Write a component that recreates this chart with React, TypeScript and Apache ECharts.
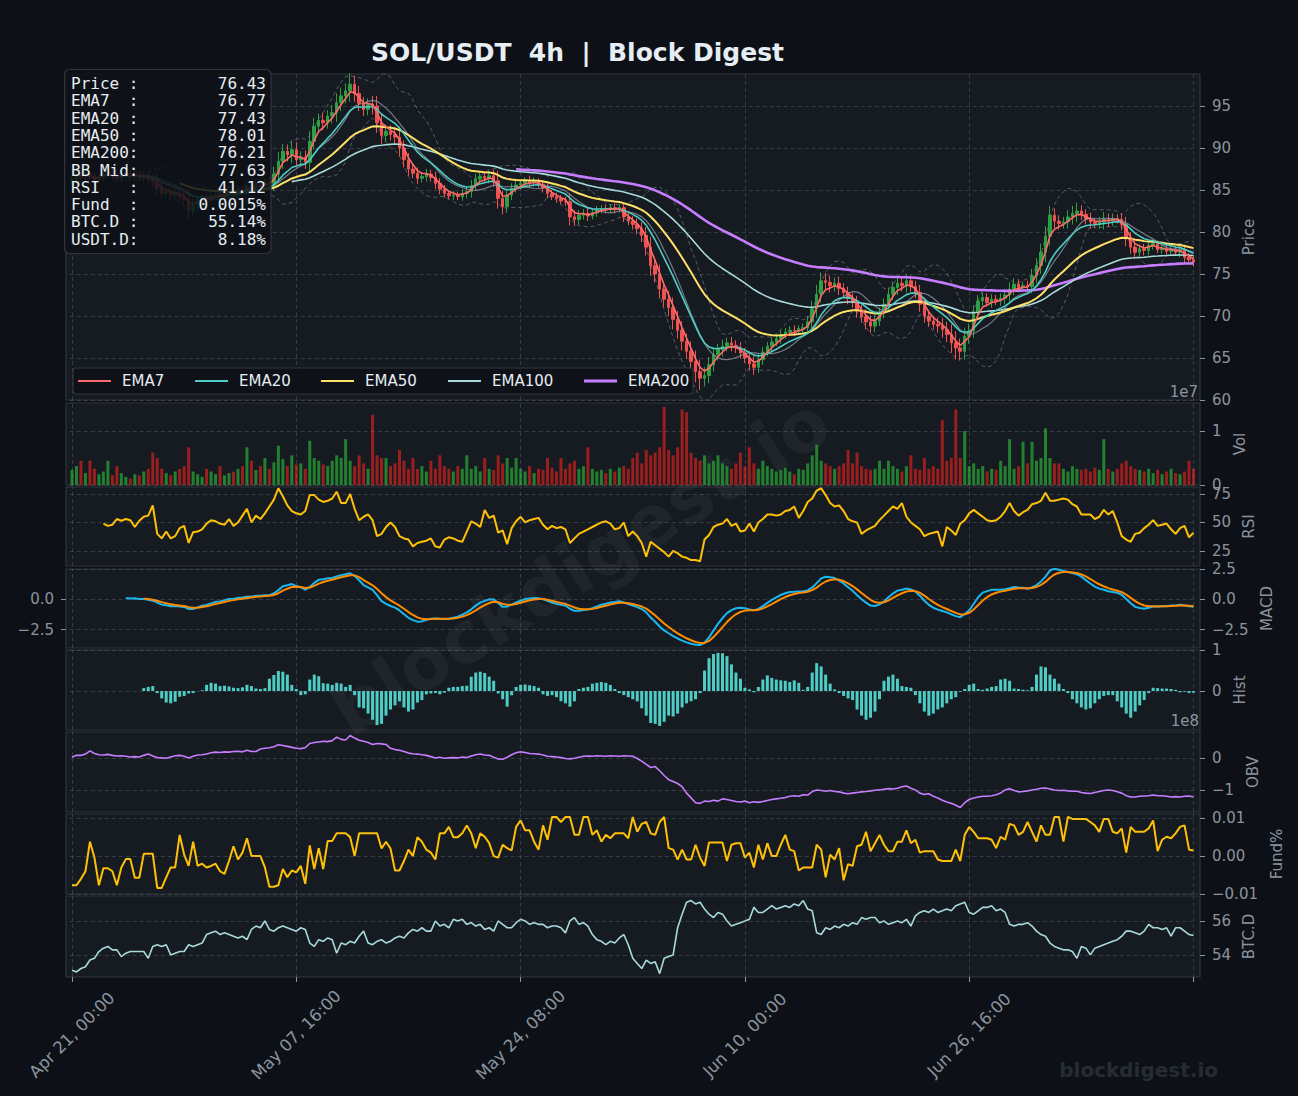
import React, { useEffect, useRef } from "react";
import * as echarts from "echarts";

// ---------------- DATA (8h bars) ----------------
const firstOpen = 86.0;
const closes = [
  86.3, 86.8, 86.5, 86.9, 86.6, 86.2, 86.5, 86.9, 87.1, 86.7,
  86.4, 86.8, 87.0, 86.6, 86.9, 86.4, 86.7, 86.3, 86.0, 85.2,
  84.6, 84.8, 84.4, 84.6, 84.2, 83.9, 82.6, 83.2, 83.9, 84.1,
  83.8, 84.3, 84.5, 84.2, 84.7, 84.9, 84.6, 85.1, 85.0, 85.4,
  85.2, 85.7, 85.5, 85.9, 85.8, 86.9, 88.4, 89.6, 89.2, 89.8,
  88.6, 88.9, 88.3, 90.8, 92.6, 93.3, 93.0, 93.8, 94.2, 95.4,
  96.2, 96.8, 97.6, 96.5, 95.3, 94.6, 95.2, 95.0, 93.0, 91.5,
  92.0, 91.6, 91.3, 90.0, 88.6, 87.5, 87.0, 86.4, 86.6, 86.9,
  86.5, 85.8, 85.1, 84.6, 84.3, 84.4, 84.2, 84.6, 84.8, 85.5,
  86.3, 86.6, 86.4, 86.7, 86.1, 84.0, 83.0, 84.4, 85.2, 85.6,
  85.8, 86.1, 85.9, 86.0, 85.7, 85.2, 84.6, 84.2, 84.0, 83.7,
  83.6, 81.8, 81.5, 82.0, 82.2, 81.9, 82.3, 82.6, 82.8, 82.7,
  82.9, 82.7, 82.9, 81.8, 81.3, 80.9, 80.4, 79.6, 78.2, 76.0,
  75.0, 73.2, 72.0, 71.0, 69.6, 68.3, 67.0, 65.8, 64.6, 63.4,
  62.6, 62.9, 64.2, 65.4, 66.0, 66.4, 66.8, 66.5, 66.2, 65.6,
  65.0, 64.3, 63.9, 64.8, 65.7, 66.4, 66.9, 67.3, 67.8, 68.1,
  68.3, 68.2, 68.5, 68.6, 69.3, 70.9, 72.6, 74.2, 74.0, 73.6,
  73.9, 73.3, 72.8, 72.1, 71.6, 70.6, 69.9, 69.3, 68.8, 69.4,
  70.4, 71.4, 72.6, 73.4, 73.9, 73.6, 74.2, 73.5, 72.8, 71.4,
  70.0, 69.4, 69.0, 68.8, 68.4, 67.8, 66.8, 66.2, 65.8, 67.6,
  68.2, 70.5, 71.8, 72.2, 71.6, 72.0, 71.8, 72.1, 72.5, 73.2,
  73.8, 73.4, 73.6, 73.5, 74.8, 76.0, 77.6, 79.5, 82.0, 81.3,
  81.0, 81.2, 81.8, 82.2, 82.5, 82.1, 81.5, 81.2, 81.0, 81.2,
  81.5, 81.3, 81.6, 81.5, 80.9, 79.2, 78.2, 77.6, 78.0, 77.8,
  78.4, 78.6, 77.9, 78.0, 77.7, 77.9, 77.6, 77.8, 77.0, 76.7,
  76.43,
];
const wicks = [
  0.4, 0.5, 0.3, 0.6, 0.4, 0.5, 0.3, 0.4, 0.5, 0.4,
  0.3, 0.5, 0.4, 0.4, 0.6, 0.3, 0.4, 0.5, 0.6, 0.9,
  0.6, 0.5, 0.4, 0.6, 0.5, 0.7, 1.2, 0.8, 0.5, 0.4,
  0.5, 0.4, 0.3, 0.5, 0.4, 0.6, 0.4, 0.5, 0.3, 0.6,
  0.5, 0.4, 0.6, 0.4, 0.5, 0.9, 1.1, 0.9, 0.8, 1.0,
  0.9, 0.7, 0.8, 1.2, 1.0, 0.8, 0.9, 0.7, 0.9, 1.1,
  1.0, 0.9, 1.3, 1.0, 0.9, 0.8, 0.7, 1.0, 1.2, 1.0,
  0.8, 0.7, 0.9, 1.0, 0.9, 0.8, 0.6, 0.7, 0.5, 0.6,
  0.5, 0.7, 0.6, 0.5, 0.4, 0.5, 0.4, 0.5, 0.6, 0.7,
  0.6, 0.5, 0.5, 0.6, 0.7, 1.2, 0.9, 0.7, 0.6, 0.5,
  0.5, 0.4, 0.6, 0.5, 0.4, 0.5, 0.6, 0.4, 0.5, 0.4,
  0.5, 1.0, 0.8, 0.6, 0.5, 0.6, 0.4, 0.5, 0.4, 0.5,
  0.4, 0.5, 0.4, 0.6, 0.5, 0.6, 0.7, 0.8, 1.0, 1.2,
  1.0, 1.1, 0.9, 1.0, 1.2, 1.0, 1.1, 0.9, 1.2, 1.3,
  1.4, 1.0, 0.9, 0.8, 0.7, 0.8, 0.6, 0.7, 0.6, 0.7,
  0.6, 0.8, 0.9, 0.7, 0.6, 0.5, 0.6, 0.5, 0.6, 0.5,
  0.5, 0.6, 0.4, 0.5, 0.7, 0.9, 1.1, 1.0, 0.9, 0.8,
  0.7, 0.8, 0.6, 0.7, 0.6, 0.8, 0.7, 0.9, 0.8, 0.7,
  0.6, 0.7, 0.8, 0.7, 0.9, 0.7, 0.8, 0.6, 0.7, 0.9,
  0.8, 0.7, 0.6, 0.8, 1.0, 0.9, 1.2, 1.4, 1.1, 1.0,
  0.9, 0.8, 0.7, 0.6, 0.5, 0.6, 0.5, 0.6, 0.7, 0.8,
  0.7, 0.6, 0.5, 0.6, 0.8, 0.9, 1.0, 1.2, 1.1, 0.8,
  0.7, 0.6, 0.8, 0.9, 1.0, 0.7, 0.6, 0.8, 0.5, 0.6,
  0.9, 0.7, 0.6, 0.5, 0.7, 0.9, 0.8, 0.7, 0.5, 0.6,
  0.6, 0.5, 0.4, 0.5, 0.4, 0.5, 0.4, 0.6, 0.7, 0.5,
  0.5,
];
// volume, units of 1e7
const volumes = [
  0.28, 0.35, 0.45, 0.22, 0.45, 0.3, 0.2, 0.25, 0.45, 0.18,
  0.35, 0.22, 0.15, 0.12, 0.2, 0.18, 0.25, 0.3, 0.6, 0.5,
  0.3, 0.22, 0.18, 0.25, 0.3, 0.35, 0.7, 0.25, 0.2, 0.15,
  0.3, 0.25, 0.2, 0.35, 0.18, 0.22, 0.25, 0.3, 0.35, 0.7,
  0.45, 0.28, 0.35, 0.5, 0.3, 0.42, 0.73, 0.48, 0.35, 0.55,
  0.38, 0.4, 0.3, 0.82, 0.5, 0.45, 0.38, 0.35, 0.45, 0.55,
  0.5, 0.85, 0.45, 0.35, 0.55, 0.4, 0.3, 1.3, 0.55, 0.5,
  0.5, 0.35, 0.4, 0.65, 0.45, 0.3, 0.5, 0.3, 0.35, 0.25,
  0.45, 0.3, 0.55, 0.35, 0.3, 0.25, 0.35, 0.3, 0.55, 0.3,
  0.35, 0.25, 0.5, 0.3, 0.28, 0.55, 0.4, 0.5, 0.32, 0.5,
  0.3, 0.25, 0.35, 0.22, 0.3, 0.28, 0.5, 0.32, 0.25, 0.5,
  0.3, 0.4, 0.45, 0.3, 0.35, 0.7, 0.3, 0.25, 0.28, 0.22,
  0.3, 0.25, 0.32, 0.35, 0.3, 0.5, 0.6, 0.4, 0.65, 0.55,
  0.6, 0.7, 1.45, 0.65, 0.55, 0.7, 1.4, 1.35, 0.6, 0.5,
  0.45, 0.55, 0.4, 0.45, 0.55, 0.4, 0.35, 0.3, 0.4, 0.6,
  0.35, 0.7, 0.4, 0.3, 0.45, 0.35, 0.3, 0.25, 0.28, 0.32,
  0.25, 0.2, 0.3, 0.28, 0.4, 0.55, 0.75, 0.45, 0.4, 0.35,
  0.3, 0.35, 0.4, 0.65, 0.4, 0.6, 0.35, 0.3, 0.28, 0.3,
  0.45, 0.3, 0.45, 0.35, 0.3, 0.25, 0.35, 0.55, 0.3, 0.28,
  0.5, 0.3, 0.35, 0.3, 1.2, 0.45, 0.5, 1.4, 0.5, 1.0,
  0.35, 0.4, 0.3, 0.35, 0.25, 0.3, 0.28, 0.45, 0.35, 0.85,
  0.3, 0.35, 0.8, 0.4, 0.8, 0.45, 0.5, 1.05, 0.5, 0.4,
  0.4, 0.3, 0.25, 0.35, 0.3, 0.28, 0.3, 0.25, 0.32, 0.28,
  0.85, 0.3, 0.25, 0.3, 0.4, 0.45, 0.35, 0.3, 0.28, 0.25,
  0.3, 0.22, 0.28, 0.2, 0.25, 0.3, 0.22, 0.2, 0.25, 0.45,
  0.3,
];
const rsiValues = [
  null, null, null, null, null, null, null, 49, 47, 48,
  53, 51.5, 53, 52, 46, 51.5, 55, 56, 65, 40,
  36, 42, 36, 38, 45, 47, 32, 41.5, 42, 44,
  49, 52, 51, 49, 48, 53, 47, 50, 56, 62,
  50, 56, 53, 58, 64, 70, 80, 73, 65, 60,
  58, 57, 60, 74, 74, 70, 68, 69, 71, 77,
  67, 67, 75, 62, 52, 55, 57, 52, 38, 40,
  46, 50, 46, 38, 36, 35, 29, 32, 33, 34,
  36, 29, 28, 35, 37, 36, 34, 33, 42, 51,
  49, 46, 61, 54, 56, 41, 43, 31, 45, 51,
  55, 50, 52, 53, 54, 48, 44, 47, 45, 46,
  44, 32, 36, 40, 42, 44, 46, 48, 50, 51,
  49, 44, 45, 50, 38, 42, 38, 32, 20, 33,
  30, 27, 24, 20, 25, 23, 20, 19, 17, 17,
  16, 35, 39, 46, 48, 49, 53, 47, 49, 42,
  43, 49, 42, 50, 53, 57, 57, 56, 57, 60,
  61, 64, 54, 60, 68, 71, 78, 80, 74, 67,
  64, 65, 60, 53, 51, 50, 40, 43, 45, 47,
  52, 56, 60, 64, 62, 67, 55, 50, 47, 44,
  38, 40, 41, 42, 29, 46, 43, 39, 49, 52,
  58, 61, 58, 55, 52, 51, 52, 55, 60, 67,
  60, 56, 59, 61, 66, 67, 69, 76, 69, 69,
  70, 71, 70, 66, 64, 57, 57, 57, 53, 55,
  61, 57, 60, 50, 38, 35, 33, 40, 41, 45,
  48, 52, 47, 48, 49, 44, 40, 45, 47, 37,
  41.12,
];
// MACD histogram
const histValues = [
  null, null, null, null, null, null, null, null, null, null,
  null, null, null, null, null, null, 0.07, 0.1, 0.12, -0.05,
  -0.18, -0.28, -0.3, -0.26, -0.14, -0.12, -0.06, -0.05, 0.0, 0.02,
  0.15, 0.2, 0.18, 0.12, 0.13, 0.11, 0.08, 0.07, 0.09, 0.15,
  0.12, 0.06, 0.05, 0.07, 0.3, 0.39, 0.49, 0.47, 0.4, 0.15,
  0.05, -0.1, -0.08, 0.28, 0.4, 0.36, 0.19, 0.18, 0.15, 0.2,
  0.18, 0.1, 0.15, -0.1, -0.4, -0.42, -0.55, -0.7, -0.83, -0.8,
  -0.6, -0.45, -0.35, -0.25, -0.4, -0.5, -0.45, -0.28, -0.22, -0.08,
  -0.06, -0.05, -0.08, -0.04, 0.08, 0.1, 0.1, 0.12, 0.13, 0.35,
  0.45, 0.47, 0.44, 0.35, 0.25, -0.06, -0.2, -0.38, -0.1, 0.1,
  0.15, 0.16, 0.14, 0.12, 0.08, -0.08, -0.12, -0.1, -0.15, -0.25,
  -0.3, -0.38, -0.25, 0.05, 0.08, 0.1, 0.18, 0.2, 0.22, 0.2,
  0.15, 0.05, -0.05, -0.1, -0.15, -0.2, -0.25, -0.42, -0.6, -0.78,
  -0.8, -0.85, -0.75, -0.6, -0.62, -0.55, -0.4, -0.3, -0.25, -0.2,
  -0.05, 0.5, 0.8, 0.9, 0.93, 0.92, 0.85, 0.65, 0.45, 0.3,
  0.08, 0.04, -0.03, 0.1, 0.28, 0.38, 0.32, 0.28, 0.26, 0.25,
  0.22, 0.26, 0.2, 0.03, 0.1, 0.45, 0.68, 0.6, 0.4, 0.18,
  0.04, -0.05, -0.12, -0.18, -0.22, -0.45, -0.6, -0.7, -0.65, -0.5,
  -0.2, 0.25, 0.35, 0.4, 0.3, 0.12, 0.1, 0.08, -0.1, -0.3,
  -0.5, -0.6, -0.55, -0.45, -0.4, -0.3, -0.2, -0.15, -0.02, 0.05,
  0.15, 0.18, 0.05, 0.03, 0.06, 0.1, 0.12, 0.28, 0.3, 0.25,
  0.06, 0.05, 0.03, 0.02, 0.1, 0.4, 0.6, 0.58, 0.4, 0.3,
  0.18, 0.05, -0.05, -0.2, -0.3, -0.4, -0.45, -0.42, -0.3, -0.2,
  -0.12, -0.1, -0.1, -0.25, -0.4, -0.55, -0.65, -0.5, -0.35, -0.22,
  -0.05, 0.08, 0.07, 0.06, 0.06, 0.05, 0.03, -0.03, -0.02, -0.05,
  -0.04,
];
// OBV, units of 1e8
const obvValues = [
  0.02, 0.08, 0.08, 0.12, 0.22, 0.14, 0.1, 0.09, 0.11, 0.08,
  0.06, 0.07, 0.05, 0.03, 0.04, 0.03, 0.08, 0.12, 0.06, 0.01,
  0.0, -0.01, 0.03, 0.07, 0.08, 0.05, 0.0, 0.05, 0.09, 0.1,
  0.12, 0.16, 0.18, 0.17, 0.19, 0.18, 0.2, 0.21, 0.19, 0.24,
  0.2, 0.2, 0.28, 0.3, 0.32, 0.35, 0.41, 0.39, 0.36, 0.33,
  0.3, 0.29, 0.32, 0.45, 0.48, 0.5, 0.52, 0.51, 0.54, 0.65,
  0.58, 0.56, 0.7, 0.62, 0.55, 0.52, 0.48, 0.42, 0.45, 0.44,
  0.42, 0.3, 0.26, 0.24, 0.2, 0.15, 0.13, 0.12, 0.1, 0.08,
  0.04, 0.0, 0.02, -0.01, 0.0, 0.01, 0.0, 0.03, 0.01, 0.06,
  0.1, 0.12, 0.09, 0.08, 0.02, -0.03, -0.04, 0.02, 0.1, 0.16,
  0.19, 0.17, 0.14, 0.13, 0.12, 0.09, 0.05, 0.04, 0.03, 0.01,
  -0.02, -0.03, -0.01, 0.02, 0.05, 0.06, 0.05, 0.07, 0.06, 0.05,
  0.07, 0.06, 0.05, 0.07, 0.06, 0.05, -0.02, -0.1, -0.2, -0.3,
  -0.27, -0.4, -0.55, -0.68, -0.74, -0.8, -0.9, -1.1, -1.25, -1.4,
  -1.42, -1.35, -1.36, -1.32, -1.35, -1.28, -1.3, -1.33, -1.36, -1.38,
  -1.35, -1.4, -1.37, -1.39, -1.36, -1.33, -1.3, -1.28, -1.26, -1.24,
  -1.2, -1.18, -1.2, -1.15, -1.16, -1.05, -1.0, -1.02, -1.04, -1.02,
  -1.05, -1.06, -1.1, -1.12, -1.1, -1.08, -1.06, -1.05, -1.03, -1.01,
  -1.0, -0.98, -0.96, -0.97, -0.95, -0.9, -0.88, -0.95, -1.0, -1.1,
  -1.14, -1.12, -1.2, -1.25, -1.32, -1.38, -1.42, -1.48, -1.55, -1.4,
  -1.3, -1.25, -1.22, -1.2, -1.2, -1.18, -1.15, -1.1, -1.0, -0.96,
  -1.02, -1.06, -1.05, -1.03, -1.0, -0.98, -0.95, -0.94, -0.97, -1.0,
  -1.02, -1.01, -1.03, -1.04, -1.04, -1.08, -1.1, -1.11, -1.08, -1.05,
  -1.02, -1.0, -1.02, -1.06, -1.1, -1.18, -1.22, -1.22, -1.2, -1.19,
  -1.18, -1.16, -1.18, -1.18, -1.2, -1.22, -1.21, -1.22, -1.2, -1.19,
  -1.22,
];
// funding rate, %
const fundingValues = [
  -0.0077, -0.0077, -0.006, -0.004, 0.0038, -0.0004, -0.0077, -0.0032, -0.0032, -0.004,
  -0.0077, -0.003, -0.0008, -0.0008, -0.0057, -0.0057, 0.0006, 0.0006, 0.0006, -0.0084,
  -0.0084, -0.0056, -0.003, -0.003, 0.0056, 0.0004, -0.0026, 0.0038, -0.0026, -0.002,
  -0.003, -0.0026, -0.002, -0.004, -0.0047, -0.0013, 0.0026, -0.0009, 0.0009, 0.0047,
  0.0, 0.0, 0.0, -0.003, -0.0081, -0.0081, -0.0077, -0.0034, -0.0056, -0.0038,
  -0.0043, -0.0026, -0.0073, 0.0028, -0.0034, 0.0021, -0.0034, 0.004, 0.004, 0.006,
  0.006, 0.006, 0.005, 0.0, 0.006, 0.006, 0.006, 0.006, 0.006, 0.002,
  0.0038, 0.002, -0.0038, -0.0038, -0.0013, 0.0017, 0.0, 0.005, 0.0038, 0.0017,
  0.0009, -0.0009, 0.006, 0.006, 0.0077, 0.005, 0.005, 0.006, 0.0081, 0.006,
  0.0021, 0.006, 0.0051, 0.0034, 0.0, -0.0004, 0.003, 0.0021, 0.0015, 0.0077,
  0.0094, 0.0068, 0.0068, 0.0038, 0.0017, 0.0081, 0.0043, 0.0103, 0.0103, 0.009,
  0.0103, 0.0103, 0.0056, 0.0056, 0.0103, 0.0103, 0.0056, 0.0068, 0.0038, 0.0056,
  0.0047, 0.006, 0.006, 0.006, 0.0047, 0.0103, 0.0064, 0.0085, 0.009, 0.006,
  0.0056, 0.009, 0.0103, 0.0021, 0.0017, -0.0009, 0.0017, -0.0009, -0.0009, 0.003,
  -0.0004, -0.0026, 0.0036, 0.0036, 0.0036, 0.0036, -0.0013, 0.003, 0.0034, 0.0034,
  -0.0004, 0.0009, -0.003, 0.003, -0.0009, 0.0034, 0.0, 0.0, 0.003, 0.0056,
  0.0017, 0.0013, -0.0038, -0.003, -0.003, -0.003, 0.003, 0.0017, -0.0056, 0.0004,
  -0.0009, 0.0021, -0.0064, -0.0021, -0.0026, 0.0026, 0.003, 0.0064, 0.0013, 0.0034,
  0.0056, 0.003, 0.0013, 0.0013, 0.0038, 0.0038, 0.0068, 0.0034, 0.0043, 0.0009,
  0.0013, 0.0013, 0.0013, -0.0009, -0.0013, -0.0013, -0.0013, 0.0017, -0.0013, 0.0056,
  0.0077, 0.0064, 0.0047, 0.0047, 0.0047, 0.0043, 0.0021, 0.0051, 0.0043, 0.0085,
  0.0081, 0.0056, 0.0064, 0.009, 0.0064, 0.0038, 0.0081, 0.0056, 0.0056, 0.0103,
  0.0103, 0.0038, 0.0103, 0.0098, 0.0098, 0.0098, 0.0098, 0.009, 0.0081, 0.0064,
  0.0098, 0.0098, 0.0064, 0.006, 0.0073, 0.0009, 0.0077, 0.0064, 0.0064, 0.0064,
  0.0073, 0.0094, 0.0013, 0.0043, 0.0051, 0.0047, 0.006, 0.0077, 0.0081, 0.0017,
  0.0015,
];
// BTC dominance, %
const btcDominance = [
  53.1, 53.0, 53.2, 53.3, 53.7, 53.8, 54.2, 54.4, 54.5, 54.3,
  54.3, 53.9, 54.1, 54.2, 54.2, 54.2, 54.2, 53.8, 54.5, 54.6,
  54.5, 54.6, 54.0, 54.1, 54.2, 54.2, 54.6, 54.5, 54.6, 54.7,
  55.2, 55.3, 55.4, 55.2, 55.3, 55.2, 55.1, 55.0, 55.1, 54.9,
  55.5, 55.7, 55.6, 56.0, 55.5, 55.4, 55.6, 55.7, 55.6, 55.5,
  55.4, 55.6, 55.5, 54.7, 54.5, 54.9, 54.8, 55.0, 54.9, 54.1,
  54.7, 54.6, 54.8, 54.7, 55.1, 55.4, 54.7, 54.6, 54.8, 54.9,
  54.7, 54.8, 55.0, 55.1, 55.0, 55.3, 55.5, 55.4, 55.6, 55.4,
  55.4, 56.0, 55.7, 55.8, 55.6, 56.1, 56.0, 56.1, 55.8, 55.9,
  55.7, 55.8, 55.5, 55.6, 55.4, 56.0, 55.8, 55.6, 55.6, 55.9,
  56.1, 56.0, 55.8, 55.9, 55.8, 55.8, 55.6, 55.7, 55.7, 55.6,
  55.3, 56.0, 56.2, 55.8, 55.9, 55.7, 55.2, 54.9, 54.8, 54.6,
  54.8, 54.7, 55.0, 55.2, 54.6, 53.8, 53.5, 53.2, 53.7, 53.5,
  53.6, 52.9, 53.8, 53.9, 54.0, 55.6, 56.4, 57.1, 57.2, 57.0,
  57.1, 56.7, 56.4, 56.2, 56.5, 56.4, 56.0, 55.7, 55.8, 55.9,
  56.0, 56.1, 56.8, 56.5, 56.5, 56.7, 56.9, 56.7, 56.8, 56.9,
  56.8, 57.0, 56.9, 57.2, 56.7, 56.6, 55.3, 55.2, 55.6, 55.5,
  55.7, 55.6, 55.8, 55.7, 55.9, 55.8, 56.2, 56.1, 56.2, 56.2,
  55.9, 56.0, 55.8, 55.9, 56.0, 55.9, 56.1, 55.7, 56.3, 56.5,
  56.6, 56.5, 56.7, 56.5, 56.6, 56.7, 56.6, 56.9, 57.0, 57.1,
  56.5, 56.4, 56.6, 56.8, 56.8, 56.9, 56.6, 56.7, 56.5, 55.8,
  55.7, 55.8, 55.8, 55.9, 55.7, 55.4, 55.2, 55.1, 54.7, 54.5,
  54.4, 54.3, 54.3, 54.2, 53.8, 54.5, 54.4, 54.0, 54.4, 54.5,
  54.6, 54.7, 54.8, 54.9, 55.1, 55.4, 55.4, 55.3, 55.2, 55.4,
  55.8, 55.6, 55.6, 55.5, 55.6, 55.1, 55.6, 55.6, 55.4, 55.2,
  55.14,
];

// tick labels / axis ticks
const priceTicks = [60, 65, 70, 75, 80, 85, 90, 95];
const volTicks = [0, 1];
const rsiTicks = [25, 50, 75];
const macdTicks = [-2.5, 0, 2.5];
const histTicks = [0, 1];
const obvTicks = [-1, 0];
const fundTicks = [-0.01, 0, 0.01];
const btcdTicks = [54, 56];
const timeTickIdx = [0, 50, 100, 150, 200, 250];

const infoLabels = ["Price :", "EMA7  :", "EMA20 :", "EMA50 :", "EMA200:", "BB Mid:", "RSI   :", "Fund  :", "BTC.D :", "USDT.D:"];
const infoValues = ["76.43", "76.77", "77.43", "78.01", "76.21", "77.63", "41.12", "0.0015%", "55.14%", "8.18%"];
const legendNames = ["EMA7", "EMA20", "EMA50", "EMA100", "EMA200"];

// ---------------- helpers ----------------
const MONTHS = ["Jan", "Feb", "Mar", "Apr", "May", "Jun", "Jul", "Aug", "Sep", "Oct", "Nov", "Dec"];
const START_MS = Date.UTC(2025, 3, 21, 0, 0, 0);
const BAR_HOURS = 8;
const pad = (n: number) => String(n).padStart(2, "0");
const categories = closes.map((_, i) => {
  const d = new Date(START_MS + i * BAR_HOURS * 3600000);
  return `${MONTHS[d.getUTCMonth()]} ${pad(d.getUTCDate())}, ${pad(d.getUTCHours())}:00`;
});

function ema(src: (number | null)[], span: number, minP: number): (number | null)[] {
  const a = 2 / (span + 1);
  let prev: number | null = null;
  let count = 0;
  return src.map((v) => {
    if (v == null) return null;
    prev = prev == null ? v : a * v + (1 - a) * prev;
    count++;
    return count >= minP ? prev : null;
  });
}
function rolling(src: number[], n: number) {
  const mid: (number | null)[] = [];
  const up: (number | null)[] = [];
  const lo: (number | null)[] = [];
  for (let i = 0; i < src.length; i++) {
    if (i < n - 1) { mid.push(null); up.push(null); lo.push(null); continue; }
    const w = src.slice(i - n + 1, i + 1);
    const m = w.reduce((s, x) => s + x, 0) / n;
    const sd = Math.sqrt(w.reduce((s, x) => s + (x - m) * (x - m), 0) / (n - 1));
    mid.push(m); up.push(m + 2 * sd); lo.push(m - 2 * sd);
  }
  return { mid, up, lo };
}
const minus = (s: string) => s.replace("-", "\u2212");
const nb = (s: string) => s.replace(/ /g, "\u00a0");

const opens = closes.map((c, i) => (i === 0 ? firstOpen : closes[i - 1]));
const candles = closes.map((c, i) => {
  const o = opens[i];
  return [o, c, Math.min(o, c) - wicks[i], Math.max(o, c) + wicks[i]];
});
// 8h bars: spans halved relative to the 4h chart
const ema7 = ema(closes, 3.5, 4);
const ema20 = ema(closes, 10, 10);
const ema50 = ema(closes, 25, 25);
const ema100 = ema(closes, 50, 50);
const ema200 = ema(closes, 100, 100);
const bb = rolling(closes, 10);
const fast = ema(closes, 6, 1);
const slow = ema(closes, 13, 1);
const macdLine = closes.map((_, i) => (i >= 12 ? (fast[i] as number) - (slow[i] as number) : null));
const signalLine = ema(macdLine, 4.5, 5);

// ---------------- layout ----------------
const FONT = '"DejaVu Sans", sans-serif';
const MONO = '"DejaVu Sans Mono", monospace';
const GRID_LEFT = 69.757;
const GRID_W = 1126;
const PX0 = 66;
const PX1 = 1200;
const panels = [[74, 400], [403, 485], [487, 566], [569, 648], [650, 730], [732, 812], [814, 894], [896, 977]];
const TXT = "#8b949e";
const GRIDC = "rgba(139,148,158,0.28)";
const UP = "#2ea043";
const DOWN = "#f0524f";

type YC = { name: string; min: number; max: number; ticks: number[]; fmt: (v: number) => string; gap: number };
const yCfg: YC[] = [
  { name: "Price", min: 60, max: 98.81, ticks: priceTicks, fmt: (v) => String(v), gap: 40 },
  { name: "Vol", min: 0, max: 1.52, ticks: volTicks, fmt: (v) => String(v), gap: 25 },
  { name: "RSI", min: 11.8, max: 81.1, ticks: rsiTicks, fmt: (v) => String(v), gap: 40 },
  { name: "MACD", min: -4.02, max: 2.5, ticks: macdTicks, fmt: (v) => minus(v.toFixed(1)), gap: 57 },
  { name: "Hist", min: -0.95, max: 1.0, ticks: histTicks, fmt: (v) => String(v), gap: 28 },
  { name: "OBV", min: -1.69, max: 0.81, ticks: obvTicks, fmt: (v) => minus(String(v)), gap: 40 },
  { name: "Fund%", min: -0.01, max: 0.0111, ticks: fundTicks, fmt: (v) => minus(v.toFixed(2)), gap: 69 },
  { name: "BTC.D", min: 52.7, max: 57.47, ticks: btcdTicks, fmt: (v) => String(v), gap: 40 },
];

function buildOption() {
  const grid = panels.map(([t, b]) => ({ left: GRID_LEFT, top: t, width: GRID_W, height: b - t }));
  const xAxis = panels.map((_, k) => {
    const last = k === panels.length - 1;
    return {
      type: "category",
      gridIndex: k,
      data: categories,
      boundaryGap: true,
      show: last,
      axisLine: { show: false },
      splitLine: { show: false },
      axisTick: { show: last, alignWithLabel: true, interval: 49, length: 5, lineStyle: { color: TXT } },
      axisLabel: {
        show: last,
        interval: 49,
        rotate: 45,
        align: "center",
        verticalAlign: "middle",
        margin: 58,
        color: TXT,
        fontSize: 16.5,
        fontFamily: FONT,
        formatter: (v: string, idx: number) => (idx >= 250 ? "" : v),
      },
    };
  });
  const yAxis: any[] = yCfg.map((c, k) => ({
    type: "value",
    gridIndex: k,
    position: "right",
    offset: PX1 - (GRID_LEFT + GRID_W),
    min: c.min,
    max: c.max,
    splitLine: { show: false },
    axisLine: { show: false },
    axisTick: { show: true, customValues: c.ticks, length: 5, lineStyle: { color: TXT } },
    axisLabel: { customValues: c.ticks, formatter: c.fmt, color: TXT, fontSize: 15, fontFamily: FONT, margin: 12 },
    name: c.name,
    nameLocation: "middle",
    nameRotate: 90,
    nameGap: c.gap,
    nameTextStyle: { color: TXT, fontSize: 15, fontFamily: FONT },
  }));
  yAxis.push({
    type: "value",
    gridIndex: 3,
    position: "left",
    offset: GRID_LEFT - PX0,
    min: -4.02,
    max: 2.5,
    splitLine: { show: false },
    axisLine: { show: false },
    axisTick: { show: true, customValues: [-2.5, 0], length: 5, lineStyle: { color: TXT } },
    axisLabel: { customValues: [-2.5, 0], formatter: (v: number) => minus(v.toFixed(1)), color: TXT, fontSize: 15, fontFamily: FONT, margin: 12 },
  });

  const gridLines = (k: number, ticks: number[]) => ({
    type: "line",
    xAxisIndex: k,
    yAxisIndex: k,
    data: closes.map(() => null),
    silent: true,
    z: 1,
    showSymbol: false,
    markLine: {
      silent: true,
      symbol: ["none", "none"],
      label: { show: false },
      lineStyle: { color: GRIDC, type: [4, 3], width: 1 },
      emphasis: { disabled: true },
      data: [
        ...ticks.map((v) => ({ yAxis: v })),
        ...timeTickIdx.map((i) => ({ xAxis: categories[i] })),
      ],
    },
  });
  const line = (k: number, data: (number | null)[], color: string, width: number, extra: any = {}) => ({
    type: "line",
    xAxisIndex: k,
    yAxisIndex: k,
    data,
    showSymbol: false,
    silent: true,
    lineStyle: { color, width, ...(extra.lineStyle || {}) },
    z: extra.z ?? 3,
  });

  const series: any[] = [
    gridLines(0, priceTicks),
    gridLines(1, volTicks),
    gridLines(2, rsiTicks),
    gridLines(3, macdTicks),
    gridLines(4, histTicks),
    gridLines(5, obvTicks),
    gridLines(6, fundTicks),
    gridLines(7, btcdTicks),
    line(0, bb.up, "rgba(139,148,158,0.55)", 1, { lineStyle: { type: [4, 3] }, z: 2 }),
    line(0, bb.lo, "rgba(139,148,158,0.55)", 1, { lineStyle: { type: [4, 3] }, z: 2 }),
    {
      type: "candlestick",
      xAxisIndex: 0,
      yAxisIndex: 0,
      data: candles,
      barWidth: 3,
      silent: true,
      z: 2,
      itemStyle: { color: UP, color0: DOWN, borderColor: UP, borderColor0: DOWN, borderWidth: 1 },
    },
    line(0, bb.mid, "rgba(139,148,158,0.8)", 1.2),
    line(0, ema200, "#c77dff", 2.6),
    line(0, ema100, "#a8dadc", 1.6),
    line(0, ema50, "#ffe066", 2),
    line(0, ema20, "#4ecdc4", 1.6),
    line(0, ema7, "#ff6b6b", 1.6),
    {
      type: "bar",
      xAxisIndex: 1,
      yAxisIndex: 1,
      barWidth: 3,
      silent: true,
      data: volumes.map((v, i) => ({ value: v, itemStyle: { color: closes[i] >= opens[i] ? "#22802f" : "#9a1e1e" } })),
    },
    line(2, rsiValues, "#ffc107", 2),
    line(3, macdLine, "#1ab8f0", 2),
    line(3, signalLine, "#ff8c00", 2),
    { type: "bar", xAxisIndex: 4, yAxisIndex: 4, barWidth: 3, silent: true, data: histValues, itemStyle: { color: "#4ecdc4" } },
    line(5, obvValues, "#c77dff", 1.6),
    line(6, fundingValues, "#ffc107", 2),
    line(7, btcDominance, "#a8dadc", 1.6),
  ];

  const graphic: any[] = [];
  panels.forEach(([t, b]) => {
    graphic.push({ type: "rect", z: -5, silent: true, shape: { x: PX0, y: t, width: PX1 - PX0, height: b - t }, style: { fill: "#161b22", stroke: "#30363d", lineWidth: 1.2 } });
  });
  graphic.push({
    type: "text", z: 1, silent: true, x: 580, y: 566, rotation: (32 * Math.PI) / 180,
    style: { text: "blockdigest.io", font: `bold 72px ${FONT}`, fill: "rgba(255,255,255,0.045)", textAlign: "center", textVerticalAlign: "middle", align: "center", verticalAlign: "middle" },
  });
  graphic.push({
    type: "text", z: 10, silent: true, x: 577.5, y: 52,
    style: { text: nb("SOL/USDT  4h  |  Block Digest"), font: `bold 25px ${FONT}`, fill: "#e6edf3", textAlign: "center", textVerticalAlign: "middle", align: "center", verticalAlign: "middle" },
  });
  graphic.push({
    type: "text", z: 10, silent: true, x: 1218, y: 1070,
    style: { text: "blockdigest.io", font: `bold 20px ${FONT}`, fill: "#262c34", textAlign: "right", textVerticalAlign: "middle", align: "right", verticalAlign: "middle" },
  });
  graphic.push({ type: "text", z: 10, silent: true, x: 1198, y: 392, style: { text: "1e7", font: `15px ${FONT}`, fill: TXT, textAlign: "right", textVerticalAlign: "middle", align: "right", verticalAlign: "middle" } });
  graphic.push({ type: "text", z: 10, silent: true, x: 1199, y: 721, style: { text: "1e8", font: `15px ${FONT}`, fill: TXT, textAlign: "right", textVerticalAlign: "middle", align: "right", verticalAlign: "middle" } });

  // info box
  graphic.push({ type: "rect", z: 20, silent: true, shape: { x: 64.5, y: 69.5, width: 206.5, height: 184, r: 5 }, style: { fill: "rgba(13,17,23,0.86)", stroke: "#30363d", lineWidth: 1.2 } });
  infoLabels.forEach((lab, i) => {
    const y = 83.5 + i * 17.3;
    graphic.push({ type: "text", z: 21, silent: true, x: 71, y, style: { text: nb(lab), font: `16px ${MONO}`, fill: "#e6edf3", textAlign: "left", textVerticalAlign: "middle", align: "left", verticalAlign: "middle" } });
    graphic.push({ type: "text", z: 21, silent: true, x: 266, y, style: { text: infoValues[i], font: `16px ${MONO}`, fill: "#e6edf3", textAlign: "right", textVerticalAlign: "middle", align: "right", verticalAlign: "middle" } });
  });

  // legend
  const legColors = ["#ff6b6b", "#4ecdc4", "#ffe066", "#a8dadc", "#c77dff"];
  const legWidths = [2, 2, 2, 2, 3];
  const legX = [78, 195, 321, 448, 584];
  graphic.push({ type: "rect", z: 20, silent: true, shape: { x: 73, y: 368, width: 620, height: 26, r: 3 }, style: { fill: "rgba(13,17,23,0.86)", stroke: "#30363d", lineWidth: 1.2 } });
  legendNames.forEach((n, i) => {
    graphic.push({ type: "line", z: 21, silent: true, shape: { x1: legX[i], y1: 381, x2: legX[i] + 33, y2: 381 }, style: { stroke: legColors[i], lineWidth: legWidths[i] } });
    graphic.push({ type: "text", z: 21, silent: true, x: legX[i] + 44, y: 381, style: { text: n, font: `15px ${FONT}`, fill: "#e6edf3", textAlign: "left", textVerticalAlign: "middle", align: "left", verticalAlign: "middle" } });
  });

  return {
    animation: false,
    backgroundColor: "#0d1117",
    grid,
    xAxis,
    yAxis,
    series,
    graphic,
  };
}

export default function App() {
  const ref = useRef<HTMLDivElement>(null);
  useEffect(() => {
    const chart = echarts.init(ref.current as HTMLDivElement, null, { renderer: "svg", width: 1298, height: 1096 });
    chart.setOption(buildOption() as any);
    return () => chart.dispose();
  }, []);
  return (
    <div
      ref={ref}
      style={{ position: "fixed", left: 0, top: 0, width: 1298, height: 1096, background: "#0d1117" }}
    />
  );
}
